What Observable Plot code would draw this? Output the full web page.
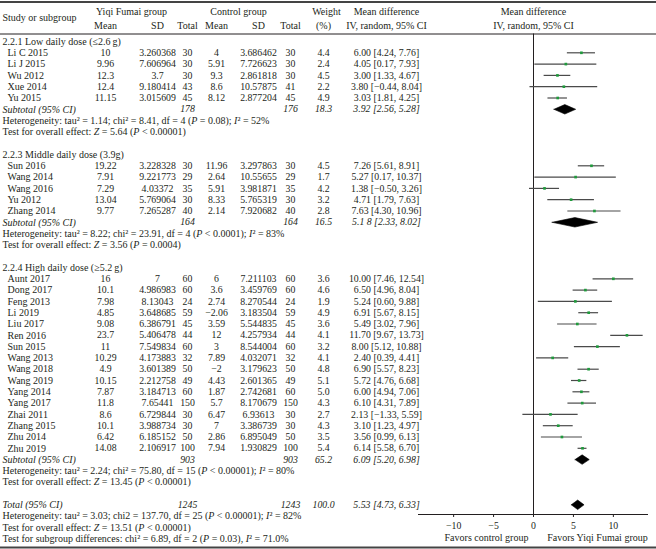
<!DOCTYPE html>
<html><head><meta charset="utf-8">
<script src="https://cdn.jsdelivr.net/npm/d3@7"></script>
<script src="https://cdn.jsdelivr.net/npm/@observablehq/plot@0.6"></script>
<style>html,body{margin:0;padding:0;background:#fff}</style>
</head><body><div id="chart"></div>
<script>
// ---------------- DATA ----------------
const groupLabels = ["2.2.1 Low daily dose (\u22642.6\u2009g)", "2.2.3 Middle daily dose (3.9g)", "2.2.4 High daily dose (\u22655.2\u2009g)"];
const study = ["Li C 2015","Li J 2015","Wu 2012","Xue 2014","Yu 2015",
  "Sun 2016","Wang 2014","Wang 2016","Yu 2012","Zhang 2014",
  "Aunt 2017","Dong 2017","Feng 2013","Li 2019","Liu 2017","Ren 2016","Sun 2015","Wang 2013","Wang 2018","Wang 2019","Yang 2014","Yang 2017","Zhai 2011","Zhang 2015","Zhu 2014","Zhu 2019"];
const group = [0,0,0,0,0, 1,1,1,1,1, 2,2,2,2,2,2,2,2,2,2,2,2,2,2,2,2];
const mean1 = [10,9.96,12.3,12.4,11.15, 19.22,7.91,7.29,13.04,9.77, 16,10.1,7.98,4.85,9.08,23.7,11,10.29,4.9,10.15,7.87,11.8,8.6,10.1,6.42,14.08];
const sd1 = [3.260368,7.606964,3.7,9.180414,3.015609, 3.228328,9.221773,4.03372,5.769064,7.265287, 7,4.986983,8.13043,3.648685,6.386791,5.406478,7.549834,4.173883,3.601389,2.212758,3.184713,7.65441,6.729844,3.988734,6.185152,2.106917];
const n1 = [30,30,30,43,45, 30,29,35,30,40, 60,60,24,59,45,44,60,32,50,49,60,150,30,30,50,100];
const mean2 = [4,5.91,9.3,8.6,8.12, 11.96,2.64,5.91,8.33,2.14, 6,3.6,2.74,-2.06,3.59,12,3,7.89,-2,4.43,1.87,5.7,6.47,7,2.86,7.94];
const sd2 = [3.686462,7.726623,2.861818,10.57875,2.877204, 3.297863,10.55655,3.981871,5.765319,7.920682, 7.211103,3.459769,8.270544,3.183504,5.544835,4.257934,8.544004,4.032071,3.179623,2.601365,2.742681,8.170679,6.93613,3.386739,6.895049,1.930829];
const n2 = [30,30,30,41,45, 30,29,35,30,40, 60,60,24,59,45,44,60,32,50,49,60,150,30,30,50,100];
const weight = [4.4,2.4,4.5,2.2,4.9, 4.5,1.7,4.2,3.2,2.8, 3.6,4.6,1.9,4.9,3.6,4.1,3.2,4.1,4.8,5.1,5.0,4.3,2.7,4.3,3.5,5.4];
const md = [6.00,4.05,3.00,3.80,3.03, 7.26,5.27,1.38,4.71,7.63, 10.00,6.50,5.24,6.91,5.49,11.70,8.00,2.40,6.90,5.72,6.00,6.10,2.13,3.10,3.56,6.14];
const lo = [4.24,0.17,1.33,-0.44,1.81, 5.61,0.17,-0.50,1.79,4.30, 7.46,4.96,0.60,5.67,3.02,9.67,5.12,0.39,5.57,4.76,4.94,4.31,-1.33,1.23,0.99,5.58];
const hi = [7.76,7.93,4.67,8.04,4.25, 8.91,10.37,3.26,7.63,10.96, 12.54,8.04,9.88,8.15,7.96,13.73,10.88,4.41,8.23,6.68,7.06,7.89,5.59,4.97,6.13,6.70];

const subN1 = [178,164,903];
const subN2 = [176,164,903];
const subWeight = [18.3,16.5,65.2];
const subMd = [3.92,5.18,6.09];
const subLo = [2.56,2.33,5.20];
const subHi = [5.28,8.02,6.98];
const subLabel = ["3.92 [2.56, 5.28]","5.1 8 [2.33, 8.02]","6.09 [5.20, 6.98]"];
const hetText = [
  "Heterogeneity: tau\u00b2 = 1.14; chi\u00b2 = 8.41, df = 4 (P = 0.08); I\u00b2 = 52%",
  "Heterogeneity: tau\u00b2 = 8.22; chi\u00b2 = 23.91, df = 4 (P < 0.0001); I\u00b2 = 83%",
  "Heterogeneity: tau\u00b2 = 2.24; chi\u00b2 = 75.80, df = 15 (P < 0.00001); I\u00b2 = 80%"];
const testText = [
  "Test for overall effect: Z = 5.64 (P < 0.00001)",
  "Test for overall effect: Z = 3.56 (P = 0.0004)",
  "Test for overall effect: Z = 13.45 (P < 0.00001)"];

const totalN1 = 1245, totalN2 = 1243, totalWeight = 100.0;
const totalMd = 5.53, totalLo = 4.73, totalHi = 6.33;
const totalLines = [
  "Heterogeneity: tau\u00b2 = 3.03; chi2 = 137.70, df = 25 (P < 0.00001); I\u00b2 = 82%",
  "Test for overall effect: Z = 13.51 (P < 0.00001)",
  "Test for subgroup differences: chi\u00b2 = 6.89, df = 2 (P = 0.03), I\u00b2 = 71.0%"];
const xTicks = [-10,-5,0,5,10];
const favorsLabels = ["Favors control group","Favors Yiqi Fumai group"];

// ---------------- LAYOUT ----------------
const W = 656, H = 549, ML = 418, MR = 8;
const ROW0 = 41, ROWH = 11.3;
const Y = px => (px - ROW0) / ROWH;       // pixel -> row units
const COL = {name: 7, left: 2, mean1: 105, sd1: 157, n1: 187, mean2: 216, sd2: 258, n2: 290, weight: 323, md: 386};
const FAVORS_X = [486, 597];
const INK = "#231f20";
const FONT = "'Liberation Serif', 'Times New Roman', serif";
const FS_TEXT = 10, FS_NUM = 9.8;
const minus = s => String(s).replace(/-/g, "\u2212");
const f2 = v => minus(v.toFixed(2));
const ci = (m, l, h) => `${f2(m)} [${f2(l)}, ${f2(h)}]`;

// build rows
const studyRows = [], labelRows = [], subRows = [], noteRows = [];
let r = 0;
for (let g = 0; g < 3; g++) {
  labelRows.push({i: r++, text: groupLabels[g]});
  study.forEach((s, k) => {
    if (group[k] !== g) return;
    studyRows.push({i: r++, name: s, mean1: minus(mean1[k]), sd1: String(sd1[k]), n1: String(n1[k]),
      mean2: minus(mean2[k]), sd2: String(sd2[k]), n2: String(n2[k]), weight: weight[k].toFixed(1),
      ci: ci(md[k], lo[k], hi[k]), md: md[k], lo: lo[k], hi: hi[k]});
  });
  subRows.push({i: r++, name: "Subtotal (95% CI)", n1: String(subN1[g]), n2: String(subN2[g]),
    weight: subWeight[g].toFixed(1), ci: subLabel[g], md: subMd[g], lo: subLo[g], hi: subHi[g]});
  noteRows.push({i: r++, text: hetText[g]});
  noteRows.push({i: r++, text: testText[g]});
  r++;
}
subRows.push({i: r++, name: "Total (95% CI)", n1: String(totalN1), n2: String(totalN2),
  weight: totalWeight.toFixed(1), ci: ci(totalMd, totalLo, totalHi), md: totalMd, lo: totalLo, hi: totalHi});
totalLines.forEach(t => noteRows.push({i: r++, text: t}));

const DH = 0.42;
const diamonds = subRows.flatMap((d, k) => [
  {k, x: d.lo, y: d.i}, {k, x: d.md, y: d.i - DH}, {k, x: d.hi, y: d.i}, {k, x: d.md, y: d.i + DH}, {k, x: d.lo, y: d.i}]);

const TT = {fill: INK, fontSize: FS_TEXT, fontFamily: FONT, lineAnchor: "middle", frameAnchor: "left"};
const TN = {...TT, fontSize: FS_NUM};
const col = (data, key, px, extra = {}) => Plot.text(data, {...TN, y: "i", text: key, dx: px - ML, textAnchor: "middle", ...extra});
const leftCol = (data, key, px, extra = {}) => Plot.text(data, {...TT, y: "i", text: key, dx: px - ML, textAnchor: "start", ...extra});
const header = (txt, px, py, anchor = "middle") => Plot.text([txt], {...TT, y: () => Y(py), text: d => d, dx: px - ML, textAnchor: anchor});
const it = {fontStyle: "italic"};

const chart = Plot.plot({
  width: W, height: H, marginLeft: ML, marginRight: MR, marginTop: 0, marginBottom: 0,
  x: {domain: [-14.4, 14.4], range: [ML, W - MR], axis: null},
  y: {domain: [Y(0), Y(H)], range: [0, H], axis: null},
  style: {fontFamily: FONT, fontSize: FS_TEXT + "px", background: "#fff", color: INK},
  marks: [
    Plot.ruleY([Y(1.5)], {insetLeft: -ML, insetRight: -MR, stroke: "#444", strokeWidth: 2}),
    Plot.ruleY([Y(33.5)], {insetLeft: -ML, insetRight: -MR, stroke: INK, strokeWidth: 1}),
    Plot.ruleY([Y(547)], {insetLeft: -ML, insetRight: -MR, stroke: "#444", strokeWidth: 2}),
    header("Study or subgroup", COL.left, 17, "start"),
    header("Yiqi Fumai group", 131, 11),
    header("Control group", 238, 11),
    header("Mean", COL.mean1, 25), header("SD", COL.sd1, 25), header("Total", COL.n1, 25),
    header("Mean", COL.mean2, 25), header("SD", COL.sd2, 25), header("Total", COL.n2, 25),
    header("Weight", 326, 11), header("(%)", COL.weight, 25),
    header("Mean difference", COL.md, 11), header("IV, random, 95% CI", COL.md, 25),
    header("Mean difference", 533, 11), header("IV, random, 95% CI", 533, 25),
    leftCol(labelRows, "text", COL.left),
    leftCol(noteRows, "text", COL.left),
    leftCol(studyRows, "name", COL.name),
    col(studyRows, "mean1", COL.mean1), col(studyRows, "sd1", COL.sd1), col(studyRows, "n1", COL.n1),
    col(studyRows, "mean2", COL.mean2), col(studyRows, "sd2", COL.sd2), col(studyRows, "n2", COL.n2),
    col(studyRows, "weight", COL.weight), col(studyRows, "ci", COL.md),
    leftCol(subRows, "name", COL.left, it),
    col(subRows, "n1", COL.n1, it), col(subRows, "n2", COL.n2, it),
    col(subRows, "weight", COL.weight, it), col(subRows, "ci", COL.md, it),
    Plot.ruleX([0], {y1: Y(33.5), y2: Y(514), stroke: INK, strokeWidth: 1}),
    Plot.ruleY(studyRows, {y: "i", x1: "lo", x2: "hi", stroke: "#4a4a4a", strokeWidth: 1.2}),
    Plot.dot(studyRows, {x: "md", y: "i", symbol: "square", r: 1.5, fill: "#1f9a3c", stroke: null}),
    Plot.line(diamonds, {x: "x", y: "y", z: "k", fill: "#000", stroke: "#000", strokeWidth: 0.6}),
    Plot.ruleY([Y(514)], {stroke: INK, strokeWidth: 1}),
    Plot.ruleX(xTicks, {x: d => d, y1: Y(514), y2: Y(517), stroke: INK}),
    Plot.text(xTicks, {x: d => d, y: () => Y(525), text: d => minus(d), fill: INK, fontSize: FS_NUM, fontFamily: FONT}),
    header(favorsLabels[0], FAVORS_X[0], 537.5),
    header(favorsLabels[1], FAVORS_X[1], 537.5)
  ]
});

document.getElementById("chart").appendChild(chart);

// italicise statistic symbols (P, Z, I) in the note lines
chart.querySelectorAll("text").forEach(t => {
  const s = t.textContent;
  if (!/^(Heterogeneity|Test for)/.test(s)) return;
  t.textContent = "";
  s.split(/(\bP\b|\bZ\b|I(?=\u00b2))/).forEach(part => {
    if (!part) return;
    if (/^(P|Z|I)$/.test(part)) {
      const ts = document.createElementNS("http://www.w3.org/2000/svg", "tspan");
      ts.setAttribute("font-style", "italic");
      ts.textContent = part;
      t.appendChild(ts);
    } else t.appendChild(document.createTextNode(part));
  });
});
</script>
</body></html>
